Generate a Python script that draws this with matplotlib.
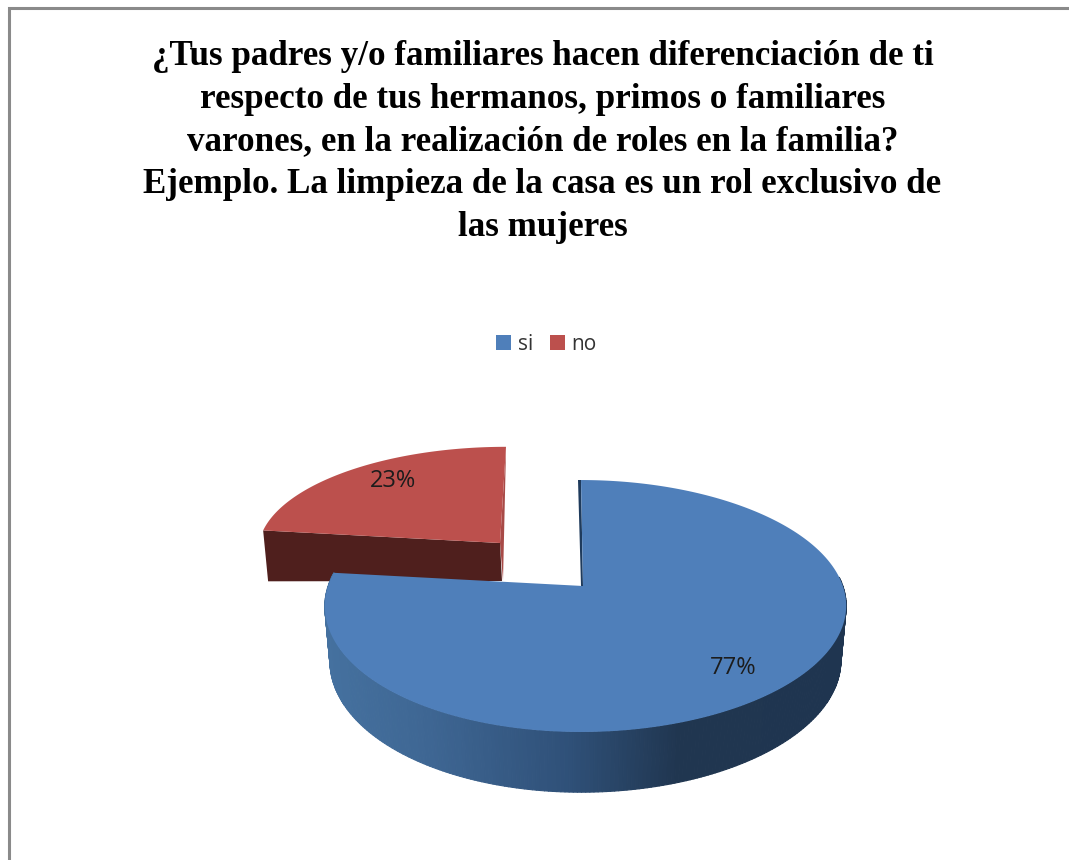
import numpy as np
import matplotlib
matplotlib.use("Agg")
import matplotlib.pyplot as plt
from matplotlib.collections import PolyCollection
from matplotlib.colors import LinearSegmentedColormap
from matplotlib.patches import Patch

TITLE_LINES = [
    "¿Tus padres y/o familiares hacen diferenciación de ti",
    "respecto de tus hermanos, primos o familiares",
    "varones, en la realización de roles en la familia?",
    "Ejemplo. La limpieza de la casa es un rol exclusivo de",
    "las mujeres",
]
CATEGORIES = ["si", "no"]
VALUES = [77, 23]
COLORS = ["#4f7fba", "#bc504d"]

# angles run clockwise from 12 o'clock, like the original pie
fracs = np.array(VALUES) / sum(VALUES)
split = 90 - 360 * fracs[0]

wall_cmap = LinearSegmentedColormap.from_list("wall", [
    (0.0, "#45719f"), (0.2, "#3e6693"), (0.47, "#2f5078"),
    (0.68, "#203650"), (1.0, "#1f3550")])


def blue_top(a):
    x, y = np.cos(np.radians(a)), np.sin(np.radians(a))
    w = 1 + 0.143 * y
    return 581 + x * (258 + 4.5 * x) / w, 588 - 123.4 * y / w


def blue_bottom(a):
    x, y = np.cos(np.radians(a)), np.sin(np.radians(a))
    w = 1 + 0.143 * y
    return 581 + 0.98 * x * (258 + 4.5 * x) / w, 588 + (54 - 121 * y) / w


def red_top(a):
    x, y = np.cos(np.radians(a)), np.sin(np.radians(a))
    w = 1 + 0.05 * y
    return 500 + 6 * y + 241 * x / w, 543 - 101 * y / w


def red_bottom(a):
    sx, sy = red_top(a)
    x = np.cos(np.radians(a))
    return sx - 5 * x, sy + 38 - 13 * x


fig, ax = plt.subplots(figsize=(10.69, 8.60), dpi=100)
ax.set_position([0, 0, 1, 1])
ax.set_xlim(0, 1069)
ax.set_ylim(860, 0)
ax.axis("off")

# chart frame, only top and left survive in the screenshot
ax.plot([9, 9, 1069], [860, 8, 8], color="#8a8a8a", lw=2.2, solid_joinstyle="miter")

ax.text(542.5, 142, "\n".join(TITLE_LINES), ha="center", va="center", fontsize=25.2,
        fontweight="bold", family="Liberation Serif", color="black", linespacing=1.39)

handles = [Patch(facecolor=c, edgecolor="none", label=n) for c, n in zip(COLORS, CATEGORIES)]
ax.legend(handles=handles, ncol=2, loc="center", bbox_to_anchor=(546.5 / 1069, 1 - 344 / 860),
          frameon=False, prop={"family": "Open Sans", "size": 15}, labelcolor="#333333",
          handlelength=0.72, handleheight=0.72, handletextpad=0.34, columnspacing=0.77)

# red slice: cut face first, then the top
a_red = np.linspace(90, split + 360, 80)
tx, ty = red_top(a_red)
bx0, by0 = red_bottom(a_red[-1])
tip_x, tip_y = 500, 543
ax.fill([tx[0], tip_x, tip_x + 3, tx[0]], [ty[0], tip_y, 581, ty[0] + 3], color="#a84a47", lw=0, zorder=2)
ax.fill([tip_x, tx[-1], bx0, 502], [tip_y, ty[-1], by0, 581], color="#4f1f1d", lw=0, zorder=2)
ax.fill(np.r_[tip_x, tx], np.r_[tip_y, ty], color=COLORS[1], lw=0, zorder=3)

# blue slice: side wall as vertical gradient strips, then the top
a_wall = np.linspace(split, 5, 240)
tx, ty = blue_top(a_wall)
bx, by = blue_bottom(a_wall)
strips = [[(tx[i], ty[i]), (tx[i + 1], ty[i + 1]), (bx[i + 1], by[i + 1]), (bx[i], by[i])]
          for i in range(len(a_wall) - 1)]
mid = (tx[:-1] + tx[1:]) / 2
shade = wall_cmap((mid - 325) / (847 - 325))
ax.add_collection(PolyCollection(strips, facecolors=shade, edgecolors=shade, linewidths=0.8, zorder=4))

# dark sliver of the cut face next to the gap
ax.fill([578, 581, 583, 581], [480, 480, 586, 586], color="#1f3b5c", lw=0, zorder=4)

a_top = np.linspace(90, split, 300)
tx, ty = blue_top(a_top)
ax.fill(np.r_[583, tx], np.r_[586, ty], color=COLORS[0], lw=0, zorder=5)

ax.text(393, 481, f"{VALUES[1]}%", ha="center", va="center", fontsize=17,
        family="Open Sans", color="#1c1c1c", zorder=6)
ax.text(733, 668, f"{VALUES[0]}%", ha="center", va="center", fontsize=17,
        family="Open Sans", color="#1c1c1c", zorder=6)

fig.savefig("out.png", dpi=100)
